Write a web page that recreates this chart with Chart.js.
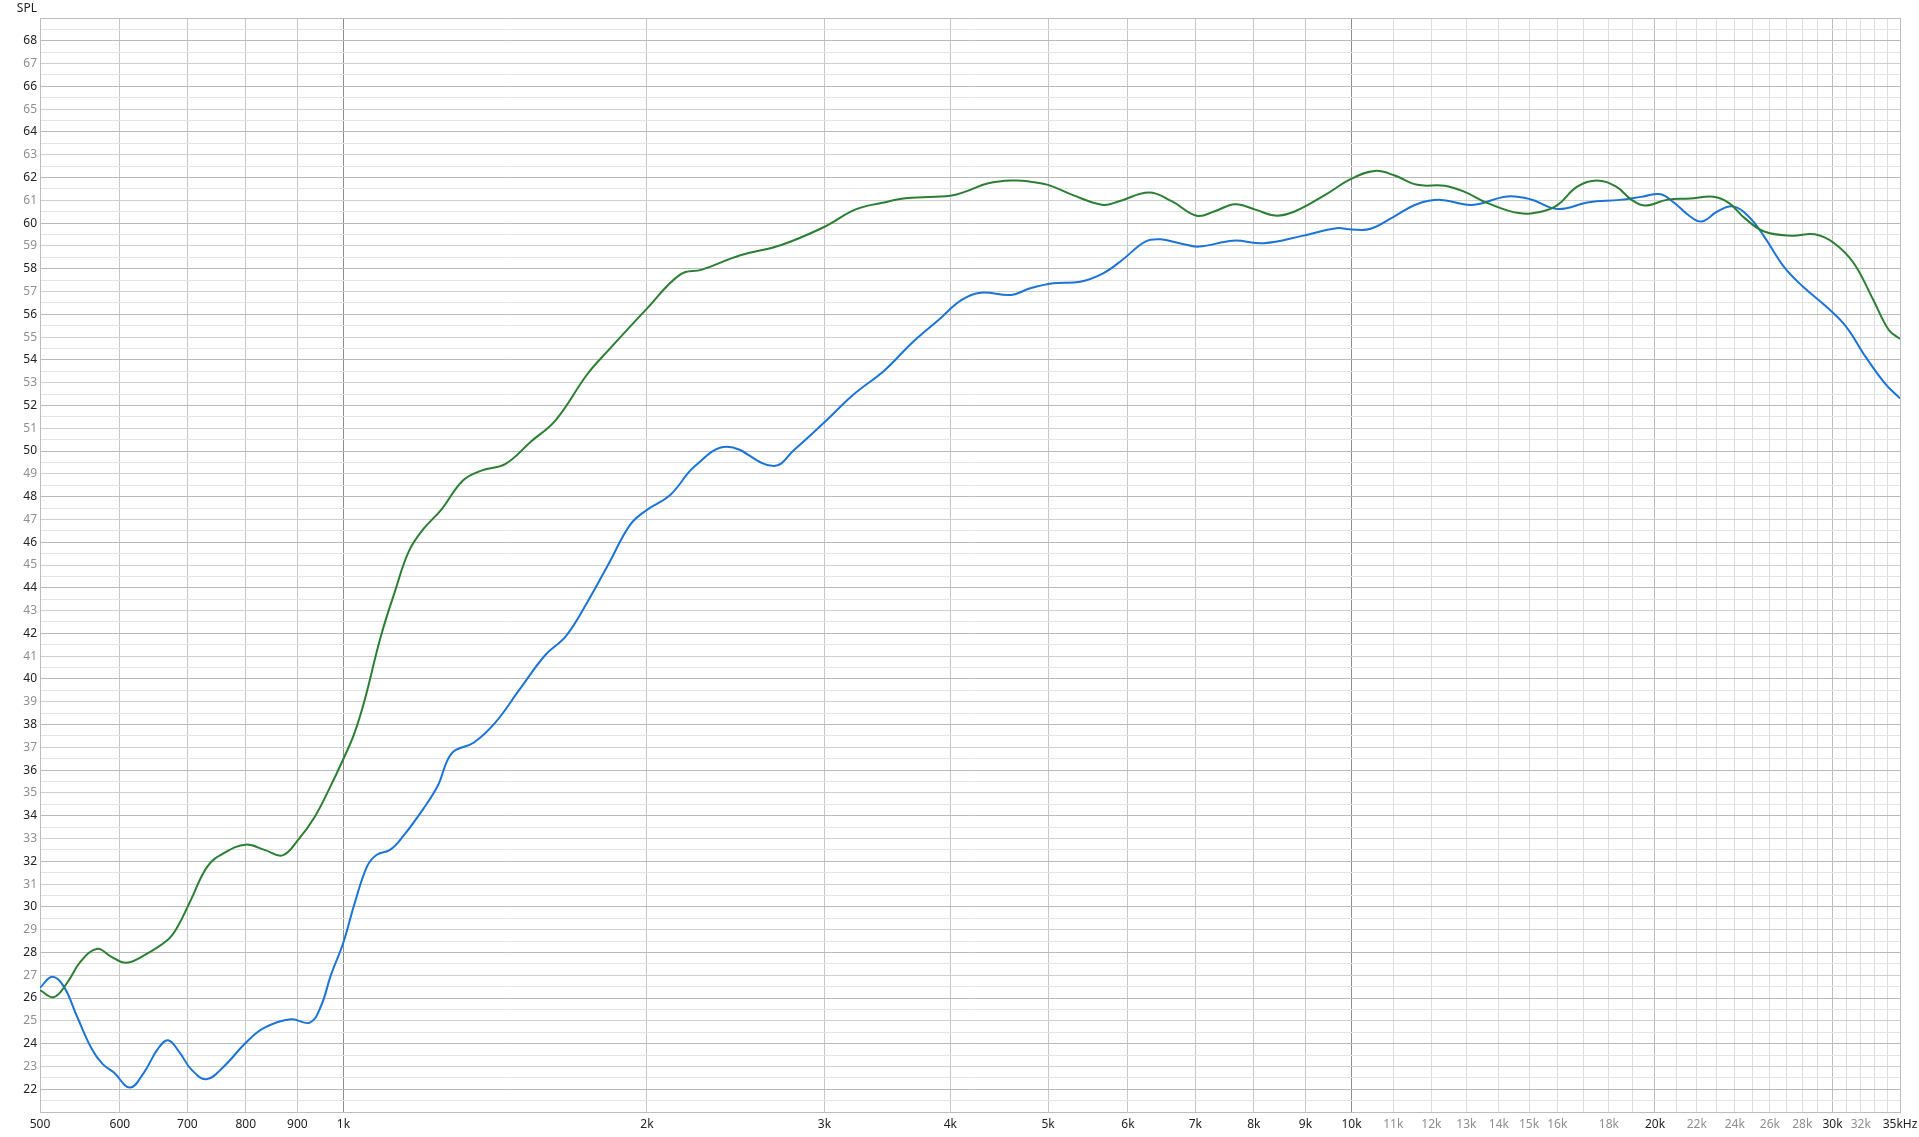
<!DOCTYPE html>
<html>
<head>
<meta charset="utf-8">
<script src="https://cdn.jsdelivr.net/npm/chart.js@4/dist/chart.umd.min.js"></script>
<style>
  html, body { margin: 0; padding: 0; background: #fff; }
  #chart { display: block; }
</style>
</head>
<body>
<canvas id="chart" width="1919" height="1137"></canvas>
<script>
// Green response (Hz / dB)
const greenFreq = [
    500, 516, 532, 549, 570, 587, 608, 634, 670, 685, 706, 733, 761, 800, 835, 870, 902, 937, 971,
    1000, 1025, 1050, 1088, 1124, 1161, 1200, 1250, 1313, 1368, 1448, 1533, 1624, 1746, 1834,
    2000, 2159, 2268, 2480, 2714, 2998, 3221, 3415, 3629, 4000, 4140, 4362, 4638, 4800,
    5000, 5285, 5670, 5871, 6297, 6637, 7023, 7306, 7665, 8041, 8404, 8781, 9417,
    10000, 10545, 11020, 11623, 12370, 12932, 13645, 14652, 15453, 16014, 16743, 17510,
    18301, 18963, 19564, 20545, 21674, 22856, 23688, 24547, 25666, 27318, 28808, 30119,
    31494, 32929, 34118, 35000
];
const greenSpl = [
    26.35, 26.04, 26.67, 27.62, 28.16, 27.84, 27.55, 27.87, 28.57, 29.15, 30.32, 31.78, 32.36, 32.73, 32.5, 32.26, 32.95, 33.97, 35.3,
    36.5, 37.6, 39.1, 41.8, 43.8, 45.6, 46.57, 47.42, 48.7, 49.13, 49.44, 50.4, 51.36, 53.38, 54.45,
    56.25, 57.75, 57.96, 58.6, 59.03, 59.83, 60.6, 60.88, 61.1, 61.2, 61.38, 61.75, 61.87, 61.82,
    61.68, 61.24, 60.8, 60.95, 61.34, 60.95, 60.32, 60.51, 60.83, 60.58, 60.33, 60.51, 61.24,
    61.95, 62.29, 62.1, 61.68, 61.64, 61.38, 60.88, 60.44, 60.51, 60.8, 61.6, 61.87,
    61.6, 61.02, 60.77, 61.02, 61.08, 61.16, 60.88, 60.22, 59.63, 59.45, 59.51, 59.12,
    58.24, 56.63, 55.31, 54.92
];

// Blue response (Hz / dB)
const blueFreq = [
    500, 514, 528, 544, 563, 577, 592, 614, 634, 654, 670, 688, 706, 731, 761, 800, 835, 887, 926, 950, 971,
    1000, 1025, 1056, 1080, 1112, 1146, 1200, 1240, 1281, 1346, 1413, 1496, 1585, 1663, 1746, 1834, 1926,
    2000, 2108, 2232, 2401, 2670, 2804, 2998, 3200, 3443, 3661, 3893, 4104, 4287, 4597, 4800,
    5060, 5379, 5670, 5922, 6243, 6465, 6753, 7054, 7631, 8183, 8934, 9661,
    10000, 10445, 11020, 11623, 12259, 13164, 14268, 15042, 16014, 17196, 18461, 19470,
    20264, 20909, 21674, 22258, 23066, 23900, 24769, 25666, 26839, 28052, 29587, 30941,
    32347, 33813, 35000
];
const blueSpl = [
    26.45, 26.93, 26.5, 25.2, 23.75, 23.1, 22.73, 22.07, 22.73, 23.75, 24.15, 23.6, 22.88, 22.44, 23.0, 24.04, 24.7, 25.07, 24.92, 25.65, 26.96,
    28.45, 30.1, 31.8, 32.3, 32.5, 33.1, 34.3, 35.3, 36.75, 37.2, 38.06, 39.55, 41.04, 41.89, 43.38, 45.08, 46.78,
    47.42, 48.06, 49.34, 50.19, 49.34, 50.08, 51.25, 52.45, 53.55, 54.73, 55.75, 56.63, 56.95, 56.85, 57.14,
    57.36, 57.43, 57.8, 58.38, 59.19, 59.29, 59.12, 58.97, 59.23, 59.12, 59.44, 59.78,
    59.72, 59.75, 60.29, 60.84, 61.02, 60.8, 61.17, 61.05, 60.62, 60.92, 61.02, 61.17,
    61.27, 60.88, 60.29, 60.07, 60.51, 60.73, 60.29, 59.41, 58.09, 57.21, 56.33, 55.46,
    54.14, 52.97, 52.31
];

// Axis grid / labels
const xGrid = [
    500, 600, 700, 800, 900, 1000, 2000, 3000, 4000, 5000, 6000, 7000, 8000, 9000, 10000,
    11000, 12000, 13000, 14000, 15000, 16000, 17000, 18000, 19000, 20000, 21000, 22000, 23000,
    24000, 25000, 26000, 27000, 28000, 29000, 30000, 31000, 32000, 33000, 34000, 35000
];
const xLabels = {
    500: '500', 600: '600', 700: '700', 800: '800', 900: '900', 1000: '1k',
    2000: '2k', 3000: '3k', 4000: '4k', 5000: '5k', 6000: '6k', 7000: '7k', 8000: '8k', 9000: '9k',
    10000: '10k', 11000: '11k', 12000: '12k', 13000: '13k', 14000: '14k', 15000: '15k', 16000: '16k',
    18000: '18k', 20000: '20k', 22000: '22k', 24000: '24k', 26000: '26k', 28000: '28k',
    30000: '30k', 32000: '32k', 35000: '35kHz'
};
const xGrayLabels = [11000, 12000, 13000, 14000, 15000, 16000, 18000, 22000, 24000, 26000, 28000, 32000];
const yMin = 21, yMax = 69;

const FONT = "'Noto Sans', 'Open Sans', sans-serif";

function toPoints(freqs, vals) {
    return freqs.map((f, i) => ({ x: f, y: vals[i] }));
}

function xGridColor(v) {
    if (v === 1000 || v === 10000) return '#8c8c8c';
    if (v === 500 || v === 35000) return '#bdbdbd';
    if (v === 20000 || v === 30000) return '#bcbcbc';
    if (v < 10000) return '#c6c6c6';
    return '#dedede';
}

function yGridColor(v) {
    if (v === yMin || v === yMax) return '#bdbdbd';
    if (!Number.isInteger(v)) return '#e4e4e4';
    return v % 2 === 0 ? '#bababa' : '#cfcfcf';
}

const splLabel = {
    id: 'splLabel',
    afterDraw(chart) {
        const ctx = chart.ctx;
        ctx.save();
        ctx.font = '12px ' + FONT;
        ctx.fillStyle = '#222';
        ctx.textAlign = 'right';
        ctx.textBaseline = 'middle';
        ctx.fillText('SPL', chart.chartArea.left - 3, 9);
        ctx.restore();
    }
};

new Chart(document.getElementById('chart').getContext('2d'), {
    type: 'line',
    data: {
        datasets: [
            {
                label: 'green',
                data: toPoints(greenFreq, greenSpl),
                borderColor: '#2b7f33',
                borderWidth: 2,
                pointRadius: 0,
                tension: 0.4
            },
            {
                label: 'blue',
                data: toPoints(blueFreq, blueSpl),
                borderColor: '#1b74d6',
                borderWidth: 2,
                pointRadius: 0,
                tension: 0.4
            }
        ]
    },
    options: {
        responsive: false,
        animation: false,
        parsing: false,
        layout: { padding: { top: 18, right: 19, left: 0, bottom: 0 } },
        plugins: {
            legend: { display: false },
            tooltip: { enabled: false }
        },
        scales: {
            x: {
                type: 'logarithmic',
                min: 500,
                max: 35000,
                afterBuildTicks: scale => { scale.ticks = xGrid.map(v => ({ value: v })); },
                afterFit: scale => {
                    scale.height = 25;
                    scale.paddingLeft = 0;
                    scale.paddingRight = 0;
                },
                border: { display: true, color: '#bdbdbd' },
                grid: {
                    drawTicks: false,
                    color: ctx => xGridColor(ctx.tick.value)
                },
                ticks: {
                    autoSkip: false,
                    maxRotation: 0,
                    padding: 5,
                    font: { family: FONT, size: 12 },
                    color: ctx => xGrayLabels.includes(ctx.tick.value) ? '#8f8f8f' : '#222',
                    callback: v => xLabels[v] || ''
                }
            },
            y: {
                type: 'linear',
                min: yMin,
                max: yMax,
                afterBuildTicks: scale => {
                    const t = [];
                    for (let v = yMin; v <= yMax; v += 0.5) t.push({ value: v });
                    scale.ticks = t;
                },
                afterFit: scale => {
                    scale.width = 40;
                    scale.paddingTop = 0;
                    scale.paddingBottom = 0;
                },
                border: { display: true, color: '#bdbdbd' },
                grid: {
                    drawTicks: false,
                    color: ctx => yGridColor(ctx.tick.value)
                },
                ticks: {
                    autoSkip: false,
                    padding: 3,
                    font: { family: FONT, size: 12 },
                    color: ctx => ctx.tick.value % 2 === 0 ? '#222' : '#8f8f8f',
                    callback: v => (Number.isInteger(v) && v > yMin && v < yMax) ? String(v) : ''
                }
            }
        }
    },
    plugins: [splLabel]
});
</script>
</body>
</html>
